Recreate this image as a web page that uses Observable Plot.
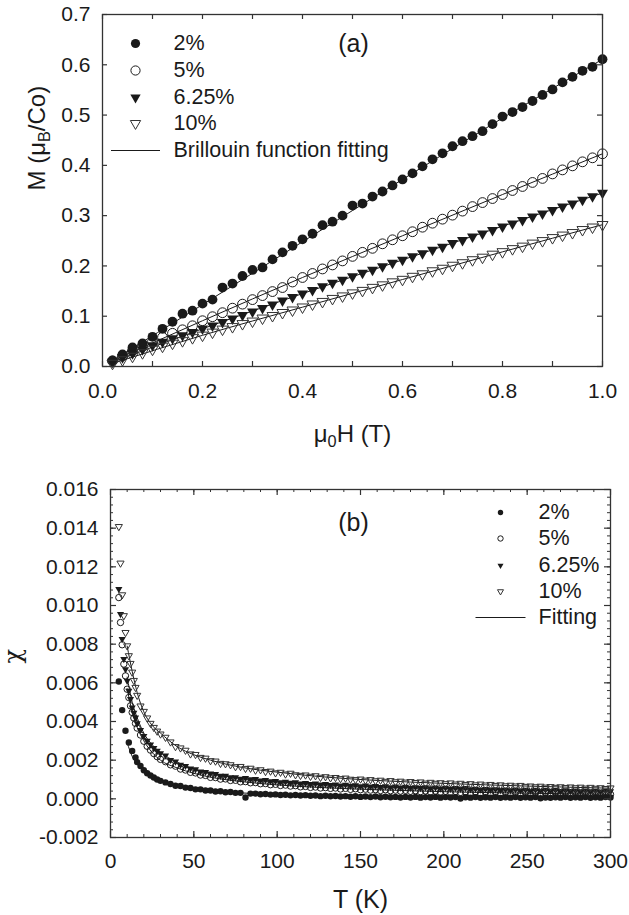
<!DOCTYPE html>
<html><head><meta charset="utf-8">
<script src="https://cdn.jsdelivr.net/npm/d3@7"></script>
<script src="https://cdn.jsdelivr.net/npm/@observablehq/plot@0.6"></script>
<style>
html,body{margin:0;padding:0;background:#fff;}
#chart{width:629px;height:915px;}
#chart svg{display:block;}
</style></head><body><div id="chart"></div>
<script>
// ---------- Panel (a): M vs mu0H ----------
const fieldH = [0.02,0.04,0.06,0.08,0.10,0.12,0.14,0.16,0.18,0.20,0.22,0.24,0.26,0.28,0.30,0.32,0.34,0.36,0.38,0.40,0.42,0.44,0.46,0.48,0.50,0.52,0.54,0.56,0.58,0.60,0.62,0.64,0.66,0.68,0.70,0.72,0.74,0.76,0.78,0.80,0.82,0.84,0.86,0.88,0.90,0.92,0.94,0.96,0.98,1.00];
const M2 = [0.012,0.024,0.038,0.046,0.059,0.075,0.089,0.105,0.111,0.125,0.133,0.157,0.165,0.180,0.192,0.197,0.213,0.227,0.240,0.253,0.264,0.281,0.288,0.300,0.320,0.324,0.338,0.348,0.360,0.372,0.384,0.398,0.412,0.424,0.438,0.448,0.458,0.468,0.482,0.497,0.506,0.516,0.528,0.540,0.551,0.565,0.576,0.588,0.596,0.611];
const M5 = [0.011,0.021,0.031,0.040,0.049,0.058,0.066,0.073,0.081,0.091,0.099,0.107,0.116,0.124,0.133,0.141,0.149,0.157,0.168,0.177,0.185,0.194,0.202,0.210,0.219,0.227,0.235,0.244,0.252,0.260,0.268,0.277,0.285,0.293,0.301,0.309,0.318,0.326,0.334,0.342,0.350,0.358,0.366,0.374,0.383,0.391,0.399,0.407,0.415,0.423];
const M625 = [0.009,0.018,0.026,0.034,0.042,0.049,0.056,0.062,0.068,0.075,0.081,0.088,0.095,0.102,0.109,0.116,0.123,0.131,0.138,0.145,0.152,0.159,0.166,0.172,0.179,0.186,0.192,0.199,0.206,0.212,0.219,0.225,0.232,0.238,0.245,0.251,0.258,0.264,0.271,0.278,0.284,0.291,0.298,0.304,0.311,0.318,0.324,0.331,0.338,0.345];
const M10 = [0.006,0.013,0.020,0.027,0.034,0.040,0.046,0.051,0.057,0.062,0.068,0.074,0.079,0.085,0.090,0.096,0.101,0.107,0.112,0.118,0.124,0.129,0.135,0.140,0.146,0.151,0.157,0.162,0.168,0.173,0.179,0.184,0.190,0.195,0.201,0.206,0.212,0.217,0.223,0.228,0.234,0.239,0.245,0.250,0.256,0.261,0.266,0.272,0.277,0.282];
const fitFieldH = [0.02,0.2,0.4,0.6,0.8,1.0];
const fitM2 = [0.012,0.123,0.248,0.372,0.494,0.611];
const fitM5 = [0.011,0.091,0.177,0.260,0.342,0.423];
const fitM625 = [0.009,0.075,0.145,0.212,0.279,0.345];
const fitM10 = [0.006,0.062,0.118,0.173,0.228,0.282];
const xTickLabelsA = [0,0.2,0.4,0.6,0.8,1.0];
const yTickLabelsA = [0,0.1,0.2,0.3,0.4,0.5,0.6,0.7];
const tickMarksA_x = [0,0.1,0.2,0.3,0.4,0.5,0.6,0.7,0.8,0.9,1.0];

// ---------- Panel (b): chi vs T ----------
const temps = [5,6,7,8,9,10,11,12,13,14,15,16,18,20,22,24,26,28,30,
  33,36,39,42,45,48,51,54,57,60,63,66,69,72,75,78,81,84,87,90,93,96,99,102,105,108,111,114,117,120,
  123,126,129,132,135,138,141,144,147,150,153,156,159,162,165,168,171,174,177,180,183,186,189,192,195,198,201,204,207,210,
  213,216,219,222,225,228,231,234,237,240,243,246,249,252,255,258,261,264,267,270,273,276,279,282,285,288,291,294,297,300];
const chi2 = [0.00607,null,0.00459,null,0.00352,null,0.00291,null,0.00248,null,0.00214,0.00190,0.00170,0.00148,0.00132,0.00121,0.00110,0.00100,0.00093,
  0.00085,0.00077,0.00068,0.00066,0.00058,0.00056,0.00049,0.00049,0.00043,0.00043,
  0.00038,0.00039,0.00034,0.00035,0.00031,0.00031,0.00007,0.00027,0.00027,0.00024,
  0.00025,0.00022,0.00023,0.00020,0.00021,0.00018,0.00020,0.00017,0.00019,0.00016,
  0.00017,0.00014,0.00016,0.00013,0.00015,0.00012,0.00014,0.00011,0.00013,0.00010,
  0.00012,0.00009,0.00012,0.00008,0.00011,0.00008,0.00010,0.00007,0.00010,0.00007,
  0.00010,0.00006,0.00009,0.00007,0.00010,0.00006,0.00009,0.00007,0.00009,0.00002,
  0.00008,0.00006,0.00009,0.00005,0.00008,0.00006,0.00009,0.00005,0.00008,0.00006,
  0.00009,0.00005,0.00008,0.00006,0.00009,0.00003,0.00007,0.00005,0.00008,0.00006,
  0.00009,0.00005,0.00008,0.00006,0.00009,0.00005,0.00008,0.00006,0.00009,0.00007];
const chi5 = [0.01041,0.00912,0.00797,0.00697,0.00636,0.00567,0.00524,0.00481,0.00447,0.00418,0.00390,0.00366,0.00330,0.00298,0.00272,0.00252,0.00234,0.00218,0.00204,
  0.00192,0.00176,0.00169,0.00154,0.00149,0.00137,0.00134,0.00123,0.00121,0.00111,
  0.00110,0.00102,0.00103,0.00095,0.00096,0.00088,0.00089,0.00083,0.00084,0.00078,
  0.00079,0.00073,0.00075,0.00069,0.00071,0.00066,0.00068,0.00062,0.00064,0.00059,
  0.00061,0.00056,0.00058,0.00054,0.00056,0.00051,0.00054,0.00049,0.00052,0.00047,
  0.00050,0.00045,0.00048,0.00043,0.00047,0.00042,0.00045,0.00040,0.00044,0.00039,
  0.00042,0.00037,0.00041,0.00036,0.00040,0.00035,0.00039,0.00034,0.00038,0.00033,
  0.00036,0.00032,0.00036,0.00031,0.00034,0.00030,0.00034,0.00029,0.00033,0.00028,
  0.00032,0.00027,0.00031,0.00027,0.00030,0.00026,0.00030,0.00025,0.00029,0.00025,
  0.00028,0.00024,0.00028,0.00024,0.00027,0.00023,0.00027,0.00023,0.00026,0.00023];
const chi625 = [0.01085,0.00955,0.00826,0.00723,0.00670,0.00610,0.00559,0.00516,0.00472,0.00445,0.00420,0.00390,0.00355,0.00325,0.00300,0.00280,0.00262,0.00248,0.00235,
  0.00224,0.00201,0.00193,0.00176,0.00170,0.00157,0.00153,0.00141,0.00139,0.00130,
  0.00128,0.00119,0.00119,0.00111,0.00111,0.00104,0.00107,0.00101,0.00102,0.00095,
  0.00097,0.00091,0.00092,0.00086,0.00088,0.00083,0.00085,0.00079,0.00081,0.00076,
  0.00079,0.00074,0.00076,0.00071,0.00074,0.00069,0.00072,0.00067,0.00070,0.00065,
  0.00068,0.00063,0.00066,0.00061,0.00065,0.00060,0.00063,0.00058,0.00062,0.00057,
  0.00060,0.00056,0.00059,0.00054,0.00058,0.00053,0.00057,0.00052,0.00056,0.00051,
  0.00055,0.00049,0.00052,0.00047,0.00050,0.00046,0.00049,0.00045,0.00048,0.00044,
  0.00048,0.00043,0.00047,0.00042,0.00046,0.00042,0.00046,0.00041,0.00045,0.00040,
  0.00044,0.00040,0.00043,0.00039,0.00043,0.00039,0.00042,0.00038,0.00042,0.00039];
const chi10 = [0.01408,0.01219,0.01055,0.00947,0.00860,0.00791,0.00740,0.00700,0.00655,0.00612,0.00576,0.00535,0.00480,0.00452,0.00418,0.00390,0.00369,0.00350,0.00335,
  0.00318,0.00294,0.00270,0.00263,0.00251,0.00232,0.00229,0.00214,0.00210,0.00197,
  0.00195,0.00183,0.00181,0.00176,0.00166,0.00167,0.00157,0.00158,0.00148,0.00150,
  0.00141,0.00143,0.00134,0.00137,0.00128,0.00132,0.00124,0.00121,0.00123,0.00116,
  0.00119,0.00111,0.00114,0.00108,0.00110,0.00104,0.00107,0.00101,0.00099,0.00102,
  0.00096,0.00099,0.00093,0.00096,0.00090,0.00094,0.00088,0.00091,0.00086,0.00089,
  0.00084,0.00087,0.00081,0.00085,0.00080,0.00083,0.00078,0.00082,0.00076,0.00080,
  0.00074,0.00078,0.00072,0.00076,0.00071,0.00074,0.00069,0.00072,0.00067,0.00070,
  0.00066,0.00069,0.00064,0.00066,0.00062,0.00065,0.00060,0.00063,0.00059,0.00062,
  0.00058,0.00061,0.00057,0.00060,0.00055,0.00059,0.00054,0.00057,0.00053,0.00056];
const fitTemps = [10,13,16,20,25,30,40,50,60,80,100,130,160,200,250,300];
const fitChi2 = [0.0029,0.0022,0.00180,0.00142,0.00112,0.00092,0.00067,0.00052,0.00042,0.00030,0.00022,0.00015,0.00011,0.00008,0.00007,0.00007];
const fitChi5 = [0.0057,0.0045,0.0037,0.0030,0.0024,0.0020,0.0016,0.00132,0.00112,0.00088,0.00072,0.00057,0.00047,0.00037,0.00029,0.00024];
const fitChi625 = [0.0063,0.0050,0.0042,0.0034,0.0028,0.0024,0.0019,0.00154,0.00132,0.00104,0.00088,0.00073,0.00062,0.00054,0.00046,0.00040];
const fitChi10 = [0.0079,0.0066,0.0055,0.0045,0.0038,0.0034,0.0027,0.00228,0.0020,0.00161,0.00138,0.00112,0.00095,0.00080,0.00066,0.00055];
const xTickLabelsB = [0,50,100,150,200,250,300];
const yTickLabelsB = [-0.002,0,0.002,0.004,0.006,0.008,0.010,0.012,0.014,0.016];

const seriesNames = ["2%","5%","6.25%","10%"];

// ---------- helpers ----------
const FONT = "'Liberation Sans', Arial, Helvetica, sans-serif";
const INK = "#1a1a1a";
const triDown = {draw(ctx, size){ const r = Math.sqrt(size/Math.PI)*1.12; ctx.moveTo(-r,-0.58*r); ctx.lineTo(r,-0.58*r); ctx.lineTo(0,1.15*r); ctx.closePath(); }};
const hLine = (L) => ({draw(ctx){ ctx.moveTo(-L/2,0); ctx.lineTo(L/2,0); }});
const styles = [
  {symbol:"circle", fill:INK, stroke:"none"},
  {symbol:"circle", fill:"none", stroke:INK},
  {symbol:triDown, fill:INK, stroke:"none"},
  {symbol:triDown, fill:"none", stroke:"#333"}
];
const pts = (xs, ys) => xs.map((x,i)=>({x, y: ys[i]})).filter(d => d.y != null);

function boxTicks(xs, ys, len, fw, fh, sw){
  const st = {stroke:"#333", strokeWidth:sw};
  return [
    Plot.tickX(xs, {x:d=>d, insetTop: fh-len, ...st}),
    Plot.tickX(xs, {x:d=>d, insetBottom: fh-len, ...st}),
    Plot.tickY(ys, {y:d=>d, insetRight: fw-len, ...st}),
    Plot.tickY(ys, {y:d=>d, insetLeft: fw-len, ...st})
  ];
}
function legend(x0, ys, tx, r, lineLen, fs, lineLabel){
  const m = [];
  seriesNames.forEach((name,i)=>{
    const s = styles[i];
    m.push(Plot.dot([0], {frameAnchor:"top-left", dx:x0, dy:ys[i], r, symbol:s.symbol, fill:s.fill, stroke:s.stroke, strokeWidth:1}));
    m.push(Plot.text([name], {frameAnchor:"top-left", dx:tx, dy:ys[i], text:d=>d, textAnchor:"start", lineAnchor:"middle", fontSize:fs}));
  });
  m.push(Plot.dot([0], {frameAnchor:"top-left", dx:x0, dy:ys[4], r:1, symbol:hLine(lineLen), fill:"none", stroke:INK, strokeWidth:1}));
  m.push(Plot.text([lineLabel], {frameAnchor:"top-left", dx:tx, dy:ys[4], text:d=>d, textAnchor:"start", lineAnchor:"middle", fontSize:fs}));
  return m;
}
function subscriptify(svg, content, parts){
  const t = d3.select(svg).selectAll("text").filter(function(){ return this.textContent === content; });
  if (t.empty()) return;
  t.text(null);
  let prevSub = false;
  parts.forEach(([s, sub])=>{
    const ts = t.append("tspan").text(s);
    if (sub) ts.attr("font-size","0.68em").attr("dy","5");
    else if (prevSub) ts.attr("dy","-5");
    prevSub = sub;
  });
}

// ---------- Plot (a) ----------
const fwA = 500, fhA = 352;
const dataA = [M2, M5, M625, M10];
const fitsA = [fitM2, fitM5, fitM625, fitM10];
const plotA = Plot.plot({
  width:629, height:455, marginLeft:102, marginRight:27, marginTop:14, marginBottom:89,
  x:{domain:[0,1]}, y:{domain:[0,0.7]},
  style:{fontFamily:FONT, fontSize:"21px", color:INK, background:"#fff"},
  marks:[
    ...fitsA.map(f => Plot.line(pts(fitFieldH, f), {x:"x", y:"y", stroke:INK, strokeWidth:1, curve:"monotone-x"})),
    ...dataA.map((d,i) => Plot.dot(pts(fieldH, d), {x:"x", y:"y", r:4.9, symbol:styles[i].symbol, fill:styles[i].fill, stroke:styles[i].stroke, strokeWidth:1})),
    Plot.frame({stroke:"#333", strokeWidth:1.3}),
    ...boxTicks(tickMarksA_x, yTickLabelsA, 5, fwA, fhA, 1.2),
    Plot.axisX(xTickLabelsA, {anchor:"bottom", tickSize:0, tickPadding:17, tickFormat:d=>d.toFixed(1), fontSize:21, label:null}),
    Plot.axisY(yTickLabelsA, {anchor:"left", tickSize:0, tickPadding:12, tickFormat:d=>d.toFixed(1), fontSize:21, label:null}),
    Plot.text(["μ0H (T)"], {frameAnchor:"bottom", dy:75, text:d=>d, lineAnchor:"bottom", fontSize:24}),
    Plot.text(["M (μB/Co)"], {frameAnchor:"left", dx:-58, rotate:-90, text:d=>d, lineAnchor:"bottom", fontSize:24}),
    Plot.text(["(a)"], {frameAnchor:"top", dx:1, dy:29, text:d=>d, lineAnchor:"middle", fontSize:25}),
    ...legend(33, [29,56,83,109,136], 71, 4.6, 49, 21.5, "Brillouin function fitting")
  ]
});
subscriptify(plotA, "μ0H (T)", [["μ",false],["0",true],["H (T)",false]]);
subscriptify(plotA, "M (μB/Co)", [["M (μ",false],["B",true],["/Co)",false]]);

// ---------- Plot (b) ----------
const fwB = 500, fhB = 348;
const dataB = [chi2, chi5, chi625, chi10];
const fitsB = [fitChi2, fitChi5, fitChi625, fitChi10];
const minorX = d3.range(0, 301, 10);
const minorY = d3.range(0, 46).map(i => -0.002 + i*0.0004);
const plotB = Plot.plot({
  width:629, height:460, marginLeft:110, marginRight:19, marginTop:34, marginBottom:78,
  x:{domain:[0,300]}, y:{domain:[-0.002,0.016]},
  style:{fontFamily:FONT, fontSize:"21px", color:INK, background:"#fff"},
  marks:[
    ...fitsB.map(f => Plot.line(pts(fitTemps, f), {x:"x", y:"y", stroke:INK, strokeWidth:1, curve:"monotone-x"})),
    ...dataB.map((d,i) => Plot.dot(pts(temps, d), {x:"x", y:"y", r:3.2, symbol:styles[i].symbol, fill:styles[i].fill, stroke:styles[i].stroke, strokeWidth:1})),
    Plot.frame({stroke:"#333", strokeWidth:1.3}),
    ...boxTicks(minorX, minorY, 3, fwB, fhB, 1),
    ...boxTicks(xTickLabelsB, yTickLabelsB, 6, fwB, fhB, 1.2),
    Plot.axisX(xTickLabelsB, {anchor:"bottom", tickSize:0, tickPadding:16, tickFormat:d=>String(d), fontSize:21, label:null}),
    Plot.axisY(yTickLabelsB, {anchor:"left", tickSize:0, tickPadding:12, tickFormat:d=>d.toFixed(3), fontSize:21, label:null}),
    Plot.text(["T (K)"], {frameAnchor:"bottom", dy:70, text:d=>d, lineAnchor:"bottom", fontSize:25}),
    Plot.text(["χ"], {frameAnchor:"left", dx:-97, rotate:-90, text:d=>d, lineAnchor:"middle", fontSize:24, fontFamily:"'DejaVu Serif', serif"}),
    Plot.text(["(b)"], {frameAnchor:"top", dx:-7, dy:33, text:d=>d, lineAnchor:"middle", fontSize:25}),
    ...legend(390, [23,49,76,102,128], 428, 2.7, 50, 21.5, "Fitting")
  ]
});

document.getElementById("chart").append(plotA, plotB);
</script></body></html>
